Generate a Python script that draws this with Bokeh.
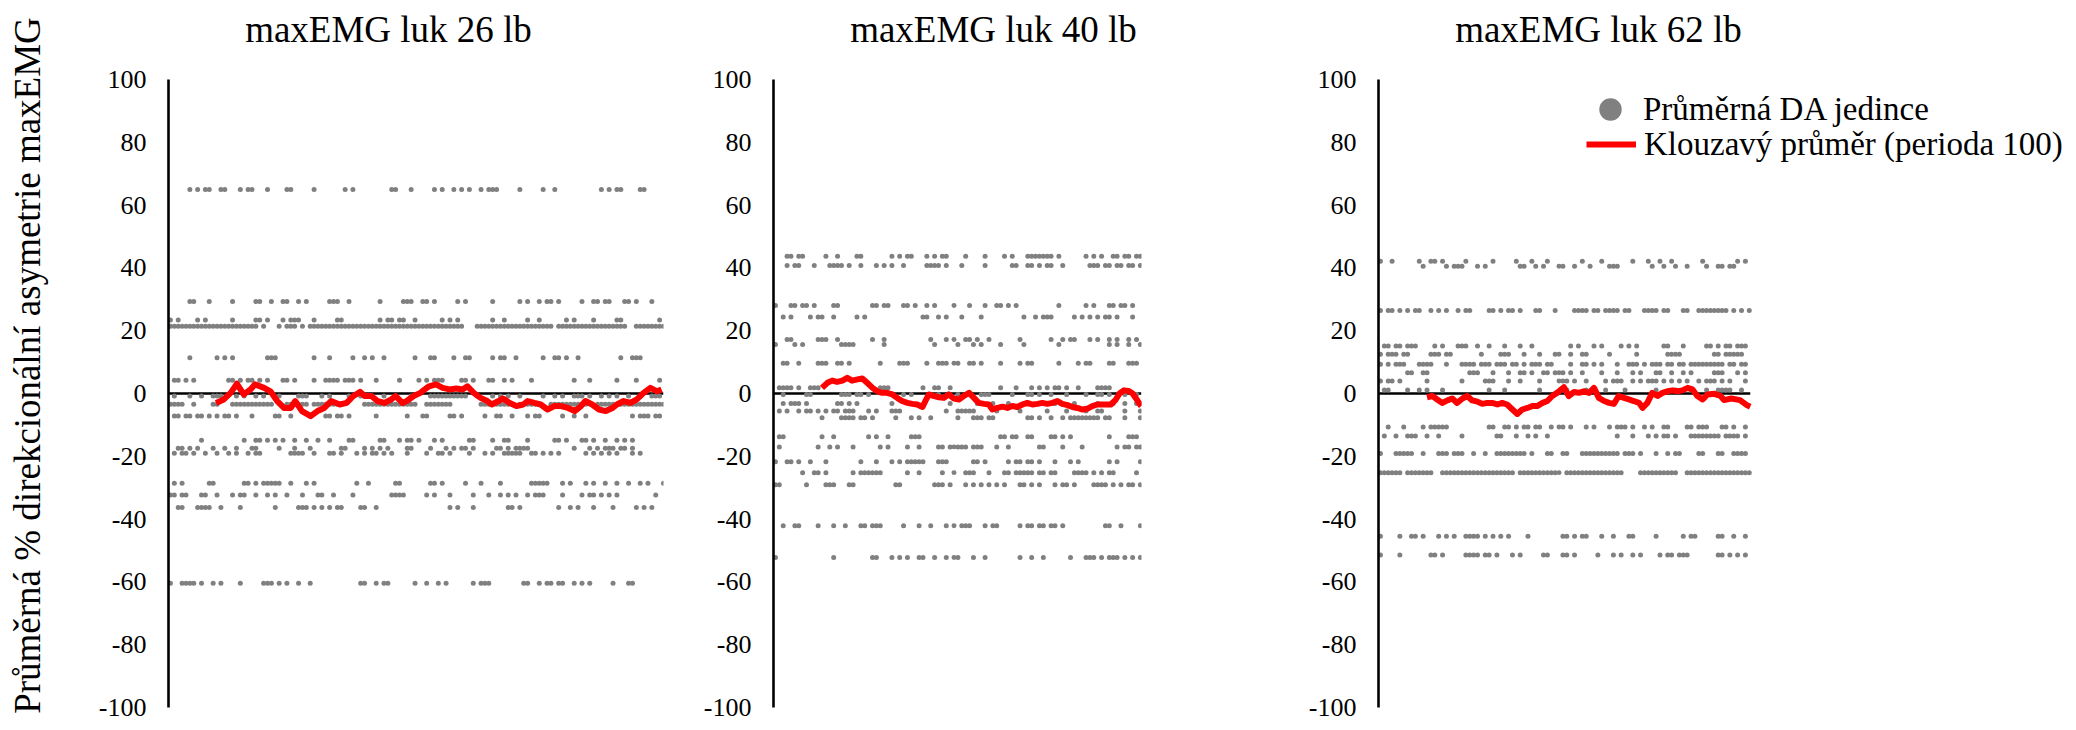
from bokeh.plotting import figure
from bokeh.models import Range1d, FixedTicker, Label, Legend, LegendItem, ColumnDataSource
from bokeh.layouts import row
from bokeh.embed import file_html
from bokeh.resources import INLINE

# ---------------- data ----------------
titles = ["maxEMG luk 26 lb", "maxEMG luk 40 lb", "maxEMG luk 62 lb"]
y_title = "Průměrná % direkcionální asymetrie maxEMG"
legend_labels = ["Průměrná DA jedince", "Klouzavý průměr (perioda 100)"]
y_ticks = [-100, -80, -60, -40, -20, 0, 20, 40, 60, 80, 100]

# number of individuals (x extent) per panel, and width of one column of the
# reading grid (in individuals)
n_individuals = [1020, 758, 766]
bin_size = 8

# Each level of averaged DA, with the grid columns where dots were read
p1_levels = [65.0, 29.3, 23.4, 21.4, 11.4, 4.2, -0.8, -3.4, -7.2, -14.9,
             -17.4, -19.0, -28.6, -32.3, -36.3, -60.4]
p1_cols = [
    "5 7 9 10 13 14 18 20 21 25 30 31 37 45 47 57 58 62 68 70 73 75 77 80 82-84 90 96 99 111 113 115 116 121 122",
    "5 6 10 16 22 23 26 29 30 33 35 41-43 46 54 60-62 65 66 68 74 76 83 90 92 95 97 98 100 106 109 110 112 113 117 118 120 124",
    "0 2 7 9 16 22 23 25 29 31-33 37 43 44 54 56 57 59 60 63 70 72 74 83 86 92 95 102 104 109 115 116 126",
    "0-22 24 28 30-32 34 36-75 79-98 100-117 120-127",
    "5 12 14 16 25-27 37 41 47 50 52 55 63 67 68 73 76 77 83 85 86 89 96 99 100 102 105 116 119-121",
    "1 2 4 6 15 16 18 20 21 23 25 29 30 32 37 40-43 45-47 49 53 59 64 66 68-70 75 76 78 82 83 86 88 93 104 108 115 120 126",
    "1 5 8 11-13 17 19 22 24 28 33-35 39 41 46 49-52 55 58 62 67-76 79 83 85 87 90 96 99 101 104-106 108 111 113 115 118 124-126",
    "0-3 6 11 12 16-26 30-35 37-44 50-63 66-72 80-87 90-95 98-107 110-127",
    "1 2 4 5 7 8 10 12 14 15 17 21 27 28 31 40 41 43 44 46 53 61 65 66 72 73 75 81 84 85 88 92 94 95 101 104 107 119 121-123 125 126",
    "8 19 22 23 25 27 29 32 35 38 41 46 47 54 55 59 61 62 64 68 70 77 78 83 86 87 92 99 100 102 106 107 109 112 115 117 119",
    "2 3 5 7 11 14 17 21 22 28 32 36 44 45 50 52 54 56 61 62 67 71 73 75 76 78 84 85 87 89-92 104 108 110 112-114 116 117 119",
    "1 3 4 6 9 12 15 17 20 22 23 31-34 37 41 42 44 48 50 52 53 55 57 61 66 69 70 72 77 81 83 86-90 93 94 96 98 100 107 109 111 113 115 119 121",
    "1 3 10 11 19 20 22 24-28 31 35 37 48 51 58 59 67 68 70 76 80 85 93-97 101 103 107 109 112 115 118 121 123 127",
    "0 1 3 4 8 9 12 16 18 19 22 25 27 30 34 38 39 42 47 57-60 66 68 72 78 82 85 87 89 92 94-96 101 106 108 109 111 113 115 125",
    "2 3 7-10 13 18 27 33-35 37 39 41 43 44 49 50 53 72 74 78 87 88 90 100 103 105 109 114 120 122 124",
    "0 3-6 8 11 13 18 24-26 28 30 33 36 49 50 53 55 56 63 66 69 71 78 80-82 91 92 95 97 98 100 101 104 106 108 114 118 119",
]

p2_levels = [43.7, 40.8, 28.0, 24.4, 17.2, 15.6, 9.6, 1.8, -0.3, -3.2,
             -5.6, -7.7, -13.8, -17.0, -21.7, -25.2, -29.1, -42.1, -52.2]
p2_cols = [
    "3 4 6 7 13 16 21 22 30 32 34 35 39 41 43 44 49 54 59 61 65-71 73 80 82 84 87 88 90 91 93 94",
    "3 5 6 10 14-17 19 22 26 28 30 33 39-42 44 48 54 61 62 65 66 68 70 71 74 81-83 85 86 88 89 91 92 94",
    "0 4 5 7 8 10 15 16 25 26 28 29 33 34 36 39 41 46 50 54 57 58 60 62 73 80 82 86 87 89 90 92",
    "2 4 9 11 12 15 21 23 38 39 42 44 48 53 64 67 69-71 77 79 81 83 85 86 88 92",
    "3 4 11-13 16 25 28 40 44 46 49 50 52 55 63 71 74 76 77 81 83 86 88 91 93",
    "0 5 7 17-20 28 41 47 51 53 58 64 73 86 88 91 94",
    "2 3 6 11-13 16 17 19 27 32-34 39 42-44 46 47 50 51 53 58 63 65 66 73 78 80 81 86 87 91-93",
    "1-4 6 9-11 27-29 38 41 42 45 58 62 66 68 70 72 73 75 78 83-86",
    "2 8 9 17-19 21 22 24 33 35 40 42 47 53-55 61 65 66 68 71 75 80 83 84 86 90 93",
    "2 4-6 8 16 17 19 21 30 35 45 52 56 60 64 68 72 77 83 87 90 93 94",
    "1 3 6 8 9 11 13 15 16 18-20 24 26 30-32 44 47-51 57 63 70 75 80 83 84 90 94",
    "12 17-20 22 23 25 31 35 37 40 47 51-53 55 56 65 66 68 71 74 76-83 85 86 90 94",
    "1 2 12 15 24 26 29 35-37 58 59 61 62 65 66 71 72 74 76 86 91-93",
    "1 11 14 16 20 27 29 34 37 42 43 45-49 51-53 57 60 68 69 74 79 88 90 91 93 94",
    "0 3 4 6 9 13 22 26 30 32 34-38 42-44 51 52 54 60 62 63 65 66 68 72 76 78 86 88 94",
    "7 10 11 13 20 22-27 34 37 43 46 49-51 55 59 60 62-66 68 69 71 72 77-80 82 84 86 87 93",
    "0 1 8 13-15 19 20 31 32 41-43 45 49 51 53 55 57 59 63 64 66 68 72 74 75 77 82-85 87 89 91 92 94",
    "2 5 6 11 15 18 22 23 25-27 33 37 40 44 46 48-50 54 56 57 63 65 66 68 69 71 72 74 85 86 89 94",
    "0 15 25 26 30 32 34 37 38 41 44 46 47 51 54 63 66 69 76 80-82 84 86-88 90 92 94",
]

p3_levels = [42.1, 40.5, 26.4, 15.1, 12.5, 9.3, 6.6, 4.0, 1.1, -10.7,
             -13.5, -19.1, -25.2, -45.5, -51.4]
p3_cols = [
    "0 3 10 13 14 16 22 29 35 39 43 52 57 65 69 72 75 83 92 94",
    "11 17 19-21 25 27 36 37 40 42 46 47 50 54 59-61 70 73 76 79 84 87 88 90 91",
    "0 2 3 5 7 9 10 13 15 17 20 22 23 28 29 31 33 34 36 40 41 45 50-53 55 56 58-61 63 64 68-71 73 74 78 79 82-89 91 93 95",
    "1 2 4 5 7-9 14 16 20-22 25 28 32 36 39 49 51 55 57 62 64 66 73 74 78 84 85 87 89 90 92-94",
    "0 2-4 6 7 13-15 17 18 26 31-33 37 41 45 46 49 52 53 59 66 74-77 86 87 89-93",
    "0 2 4-6 10-13 17 21-24 26-28 30-32 34 35 37 39-41 43 44 49 52 53 55 57 61 64-66 68 70-72 74 75 77 78 80-88 90 91 93 94",
    "7 8 11 12 23-25 29 33 36 37 39 42 43 45-47 49 52 57 61 65 67 71 72 75 78 80 86-88 92 94",
    "0 2 3 5 12 21 27-29 33 36 41 46-48 50 53 58 60-62 65 67 69-71 73 75 77 79 82 84-86 88 90 94",
    "1 2 7 10 12 16 28 32 41 48 53 58 63 71 76 80 84 87-90 93",
    "2 6 11 13-17 28 29 32 33 35 37 38 40 41 44 46 47 49 53 55 59 61-63 65 68 70 73 74 79 80 82-84 88 89 91 94",
    "1 4 7-9 12 15 21 30 31 35 38 40 43 61 65 69 71 73 74 76 80-87 89-92 94",
    "0 4-8 11 15-17 19-21 24 27 30-37 39 43 44 47 48 52-61 63-65 67 71 74 76 77 82 83 87 88 91-94",
    "0-5 7-13 16-34 36-46 48-62 67-76 79-95",
    "0 5 8 9 11 15 17 19 22-25 27 29 31 33 38 47 48 50 52 53 57 60 64 65 71 78 80 81 87 88 91 94",
    "0 5 13 14 16 22-25 27 28 30 34 36 42 43 47 48 50 56 60 62 65 67 72 74 75 77-79 87 88 90 92 94",
]

# moving average (period 100): individual index and value
p1_ma_x = [98, 114, 128, 141, 155, 169, 178, 197, 210, 224, 238, 252, 261, 275, 293, 307, 321, 335, 353, 367,
           381, 395, 404, 418, 431, 445, 459, 468, 482, 491, 505, 519, 528, 537, 551, 565, 579, 593, 606, 616,
           629, 643, 657, 666, 680, 689, 703, 717, 731, 740, 754, 767, 781, 795, 809, 823, 837, 850, 859, 873,
           887, 901, 915, 924, 938, 952, 965, 979, 993, 1007, 1016]
p1_ma_y = [-3.0, -1.9, 0.2, 3.1, -0.3, 1.3, 2.9, 1.8, 0.7, -2.4, -4.6, -4.6, -2.4, -5.6, -7.2, -5.6, -4.6, -2.4, -3.5, -3.0,
           -0.8, 0.5, -0.8, -0.8, -2.4, -3.0, -1.9, -0.8, -3.0, -2.4, -0.8, 0.2, 1.3, 2.3, 2.9, 1.8, 1.3, 1.6, 1.3, 2.3,
           0.2, -1.4, -2.4, -3.5, -2.4, -1.6, -3.0, -4.0, -3.5, -2.4, -3.0, -3.5, -5.1, -4.0, -4.0, -4.6, -5.6, -4.0, -2.4, -3.5,
           -5.1, -5.6, -4.6, -3.5, -2.4, -3.0, -1.9, 0.2, 1.8, 0.7, 1.3]

p2_ma_x = [100, 111, 121, 131, 142, 152, 162, 173, 183, 193, 204, 214, 224, 234, 245, 255, 265, 276, 286, 296,
           307, 313, 320, 331, 341, 351, 361, 372, 382, 392, 403, 413, 423, 434, 444, 451, 461, 472, 482, 492,
           502, 513, 523, 533, 544, 554, 564, 575, 585, 595, 606, 616, 626, 637, 647, 657, 667, 681, 695,
           705, 713, 722, 732, 740, 748, 754, 758]
p2_ma_y = [1.8, 3.4, 4.1, 3.7, 4.1, 5.0, 4.1, 4.5, 4.8, 3.4, 1.8, 0.7, 0.2, 0.2, -0.3, -1.4, -2.4, -3.0, -3.3, -3.5,
           -4.3, -2.4, -0.3, -0.8, -1.2, -1.4, -0.3, -1.6, -1.9, -0.8, 0.2, -1.4, -3.0, -3.3, -3.5, -5.1, -4.6, -4.2, -4.6, -4.0,
           -4.3, -3.5, -3.0, -3.5, -3.3, -3.0, -3.3, -3.0, -2.4, -3.3, -3.7, -4.3, -4.6, -5.1, -4.8, -4.0, -3.5, -3.5, -3.5,
           -2.0, 0.0, 1.0, 0.8, 0.0, -1.8, -3.2, -4.0]

p3_ma_x = [100, 111, 121, 131, 142, 152, 162, 173, 183, 193, 204, 214, 224, 234, 245, 255, 265, 276, 286, 296,
           307, 317, 327, 338, 348, 358, 368, 382, 392, 403, 413, 423, 434, 444, 454, 465, 475, 485, 495, 506,
           516, 526, 537, 544, 554, 564, 575, 585, 595, 606, 616, 626, 637, 647, 657, 668, 678, 692, 705,
           712, 727, 745, 759, 766]
p3_ma_y = [-1.2, -0.8, -1.9, -3.0, -2.2, -1.6, -3.0, -1.6, -0.8, -2.2, -2.6, -3.3, -3.0, -3.0, -3.5, -3.0, -3.5, -5.1, -6.5, -5.1,
           -4.6, -4.0, -4.0, -3.0, -2.4, -0.8, 0.2, 2.0, -0.8, 0.5, 0.2, 0.7, 0.2, 1.8, -1.4, -2.4, -3.0, -3.3, -0.8, -1.4,
           -1.9, -2.4, -3.0, -4.6, -3.0, 0.2, -0.8, 0.2, 0.7, 1.0, 0.7, 1.0, 1.8, 1.3, -0.8, -1.9, -0.3, -0.1, -0.8,
           -2.1, -1.6, -2.1, -3.7, -4.2]

# ---------------- styling / layout ----------------
FONT = "Liberation Serif"
DOT_COLOR = "#808080"
MA_COLOR = "#FF0000"
PX_PER_IND = 0.4853          # horizontal pixels per individual
FIG_W = [700, 605, 771]      # widths of the three figures
AXIS_X = [168, 73, 73]       # y-axis position inside each figure
H = 730
TOP, BOTTOM = 79, 23         # space above 100 and below -100
PX_PER_UNIT = (H - TOP - BOTTOM) / 200.0


def expand(spec):
    out = []
    for tok in spec.split():
        if "-" in tok:
            a, b = tok.split("-")
            out.extend(range(int(a), int(b) + 1))
        else:
            out.append(int(tok))
    return sorted(set(out))


def dots(levels, cols):
    xs, ys = [], []
    for lv, spec in zip(levels, cols):
        for c in expand(spec):
            xs.append((c + 0.5) * bin_size)
            ys.append(lv)
    return xs, ys


def panel(i, levels, cols, ma_x, ma_y, last=False):
    n = n_individuals[i]
    if last:
        fw = FIG_W[i] - AXIS_X[i]
    else:
        fw = int(round(n * PX_PER_IND))
    x_end = fw / PX_PER_IND
    p = figure(width=FIG_W[i], height=H,
               x_range=Range1d(0, x_end),
               y_range=Range1d(-100 - BOTTOM / PX_PER_UNIT, 100 + TOP / PX_PER_UNIT),
               output_backend="svg", toolbar_location=None,
               x_axis_location=None,
               min_border_left=AXIS_X[i], min_border_right=FIG_W[i] - AXIS_X[i] - fw,
               min_border_top=0, min_border_bottom=0)
    p.outline_line_color = None
    p.xgrid.visible = False
    p.ygrid.visible = False
    p.background_fill_color = "white"
    p.border_fill_color = "white"

    ax = p.yaxis[0]
    ax.ticker = FixedTicker(ticks=y_ticks)
    ax.bounds = (y_ticks[0], y_ticks[-1])
    ax.major_label_overrides = {t: str(t) for t in y_ticks}
    ax.axis_line_color = "black"
    ax.axis_line_width = 2.6
    ax.major_tick_line_color = None
    ax.minor_tick_line_color = None
    ax.major_tick_out = 0
    ax.major_tick_in = 0
    ax.minor_tick_out = 0
    ax.major_label_standoff = 22
    ax.major_label_text_font = FONT
    ax.major_label_text_font_size = "26px"
    ax.major_label_text_color = "black"

    # horizontal zero line across the data extent
    p.segment(x0=[0], y0=[0], x1=[n], y1=[0], line_color="black", line_width=2.5)

    xs, ys = dots(levels, cols)
    src = ColumnDataSource(dict(x=xs, y=ys))
    sc = p.scatter("x", "y", source=src, size=5.0, fill_color=DOT_COLOR, line_color=None, marker="circle")
    ln = p.line(ma_x, ma_y, line_color=MA_COLOR, line_width=6, line_join="round")

    p.add_layout(Label(x=220, y=H - 29, x_units="screen", y_units="screen",
                       text=titles[i], text_font=FONT, text_font_size="37px",
                       text_align="center", text_baseline="middle", text_color="black"))
    return p, sc, ln


p1, _, _ = panel(0, p1_levels, p1_cols, p1_ma_x, p1_ma_y)
p2, _, _ = panel(1, p2_levels, p2_cols, p2_ma_x, p2_ma_y)
p3, sc3, ln3 = panel(2, p3_levels, p3_cols, p3_ma_x, p3_ma_y, last=True)

ax1 = p1.yaxis[0]
ax1.axis_label = y_title
ax1.axis_label_text_font = FONT
ax1.axis_label_text_font_size = "37px"
ax1.axis_label_text_font_style = "normal"
ax1.axis_label_text_color = "black"
ax1.axis_label_standoff = 48

# legend swatch for the dots: a larger marker as in the reference legend;
# its single point is NaN, so nothing is drawn inside the plot
swatch_src = ColumnDataSource(dict(x=[float("nan")], y=[float("nan")]))
swatch = p3.scatter("x", "y", source=swatch_src, size=22, fill_color=DOT_COLOR,
                    line_color=None, marker="circle")

legend_common = dict(orientation="vertical", padding=0, margin=0, spacing=0,
                     border_line_color=None, background_fill_alpha=0,
                     label_text_font=FONT, label_text_font_size="33px",
                     label_text_color="black")
leg1 = Legend(items=[LegendItem(label=legend_labels[0], renderers=[swatch])],
              location=(204, H - 109 - 28), glyph_width=56, glyph_height=56, label_height=56,
              label_standoff=5, **legend_common)
leg2 = Legend(items=[LegendItem(label=legend_labels[1], renderers=[ln3])],
              location=(208, H - 144 - 19), glyph_width=50, glyph_height=38, label_height=38,
              label_standoff=8, **legend_common)
p3.add_layout(leg1)
p3.add_layout(leg2)

layout = row(p1, p2, p3)
open("out.html", "w").write(file_html(layout, INLINE))
